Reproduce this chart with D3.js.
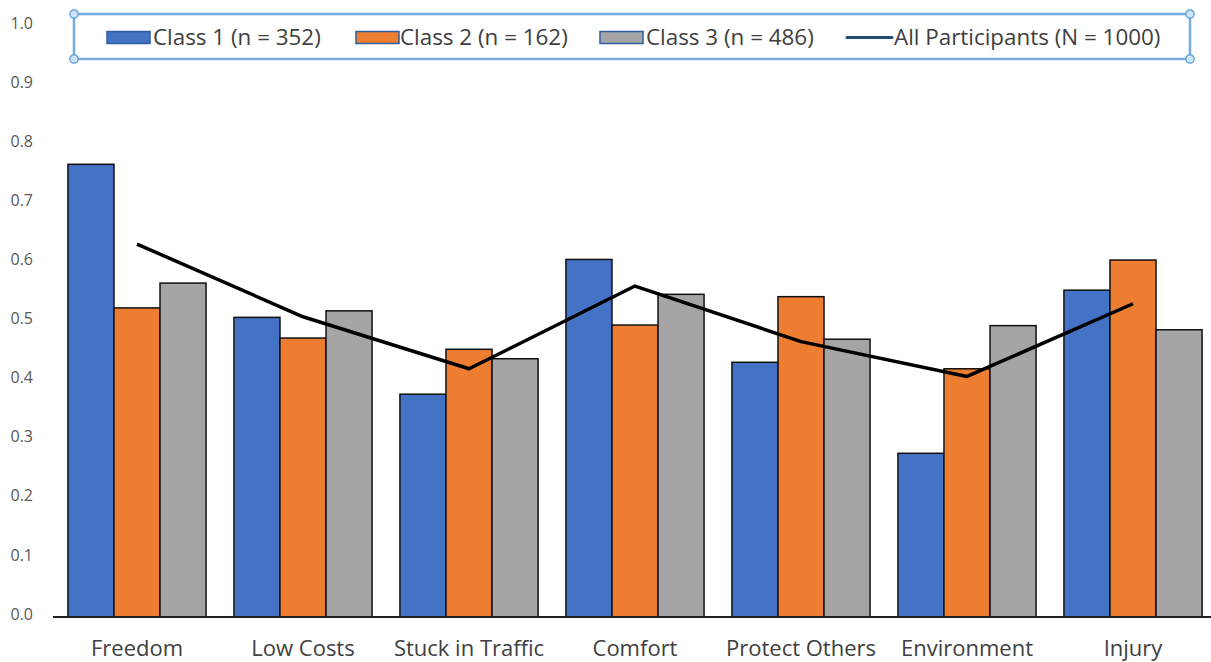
<!DOCTYPE html>
<html>
<head>
<meta charset="utf-8">
<script src="https://cdn.jsdelivr.net/npm/d3@7"></script>
<style>
  html, body { margin: 0; padding: 0; background: #fff; }
  svg { display: block; font-family: "Open Sans", "Noto Sans", sans-serif; }
</style>
</head>
<body>
<svg id="chart" width="1211" height="662"></svg>
<script>
// Motive categories
const categories = ["Freedom", "Low Costs", "Stuck in Traffic", "Comfort", "Protect Others", "Environment", "Injury"];

// Latent class shares per motive
const class1 = [0.766, 0.507, 0.377, 0.605, 0.431, 0.277, 0.553];
const class2 = [0.523, 0.472, 0.453, 0.494, 0.542, 0.420, 0.604];
const class3 = [0.565, 0.518, 0.437, 0.546, 0.470, 0.493, 0.486];

// Whole sample
const allParticipants = [0.631, 0.508, 0.420, 0.560, 0.466, 0.407, 0.530];

const seriesNames = ["Class 1 (n = 352)", "Class 2 (n = 162)", "Class 3 (n = 486)"];
const lineName = "All Participants (N = 1000)";
const yTicks = [0.0, 0.1, 0.2, 0.3, 0.4, 0.5, 0.6, 0.7, 0.8, 0.9, 1.0];

const colors = ["#4472C4", "#ED7D31", "#A5A5A5"];
const seriesValues = [class1, class2, class3];

const svg = d3.select("#chart");

const x0 = d3.scaleBand().domain(categories).range([54, 1216]).paddingInner(0.168).paddingOuter(0.084);
const x1 = d3.scaleBand().domain(d3.range(3)).range([0, x0.bandwidth()]);
const y = d3.scaleLinear().domain([0, 1]).range([617, 26]);

// Y-axis tick labels (no axis line)
const yAxis = d3.axisLeft(y).tickValues(yTicks).tickFormat(d3.format(".1f")).tickSize(0).tickPadding(0);
const gy = svg.append("g").attr("transform", "translate(33,-3)").call(yAxis);
gy.select(".domain").remove();
gy.selectAll("text").attr("fill", "#595959").style("font-size", "16px").style("font-family", "\"Open Sans\", sans-serif");

// Bars
const groups = svg.append("g").selectAll("g")
  .data(categories)
  .join("g")
  .attr("transform", d => `translate(${x0(d)},0)`);

groups.selectAll("rect")
  .data((d, i) => seriesValues.map((s, k) => ({ k, v: s[i] })))
  .join("rect")
  .attr("x", d => x1(d.k))
  .attr("width", x1.bandwidth())
  .attr("y", d => y(d.v))
  .attr("height", d => y(0) - y(d.v))
  .attr("fill", d => colors[d.k])
  .attr("stroke", "#111")
  .attr("stroke-width", 1.5);

// Category axis
const xAxis = d3.axisBottom(x0).tickSize(0).tickPadding(23);
const gx = svg.append("g").attr("transform", `translate(0,${y(0)})`).call(xAxis);
gx.select(".domain").attr("stroke", "#222").attr("stroke-width", 2).attr("d", "M53,0H1211");
gx.selectAll("text").attr("fill", "#404040").style("font-size", "22px").style("font-family", "\"Open Sans\", sans-serif");

// All participants line
const line = d3.line()
  .x((d, i) => x0(categories[i]) + x0.bandwidth() / 2)
  .y(d => y(d));
svg.append("path")
  .datum(allParticipants)
  .attr("d", line)
  .attr("fill", "none")
  .attr("stroke", "#000")
  .attr("stroke-width", 3.5)
  .attr("stroke-linejoin", "round");

// Legend box with selection handles
const lg = svg.append("g");
const box = { x0: 74, y0: 14, x1: 1190, y1: 59 };
lg.append("rect")
  .attr("x", box.x0).attr("y", box.y0)
  .attr("width", box.x1 - box.x0).attr("height", box.y1 - box.y0)
  .attr("fill", "#fff").attr("stroke", "#74ace0").attr("stroke-width", 2.5);
[[box.x0, box.y0], [box.x0, box.y1], [box.x1, box.y0], [box.x1, box.y1]].forEach(([cx, cy]) => {
  lg.append("circle").attr("cx", cx).attr("cy", cy).attr("r", 4.2)
    .attr("fill", "#cfe3f7").attr("stroke", "#5b9bd5").attr("stroke-width", 1.3);
});

const legendItems = [
  { swatch: 107, text: 153 },
  { swatch: 356, text: 400 },
  { swatch: 600, text: 646 }
];
legendItems.forEach((it, k) => {
  lg.append("rect").attr("x", it.swatch).attr("y", 31.5).attr("width", 43).attr("height", 12)
    .attr("fill", colors[k]).attr("stroke", "#2e5f9e").attr("stroke-width", 1.5);
  lg.append("text").attr("x", it.text).attr("y", 37).attr("dy", "0.35em")
    .attr("fill", "#404040").style("font-size", "22.4px").text(seriesNames[k]);
});
lg.append("line").attr("x1", 847).attr("x2", 892).attr("y1", 37.5).attr("y2", 37.5)
  .attr("stroke", "#1f4e79").attr("stroke-width", 3).attr("stroke-linecap", "round");
lg.append("text").attr("x", 894).attr("y", 37).attr("dy", "0.35em")
  .attr("fill", "#404040").style("font-size", "22.4px").text(lineName);
</script>
</body>
</html>
